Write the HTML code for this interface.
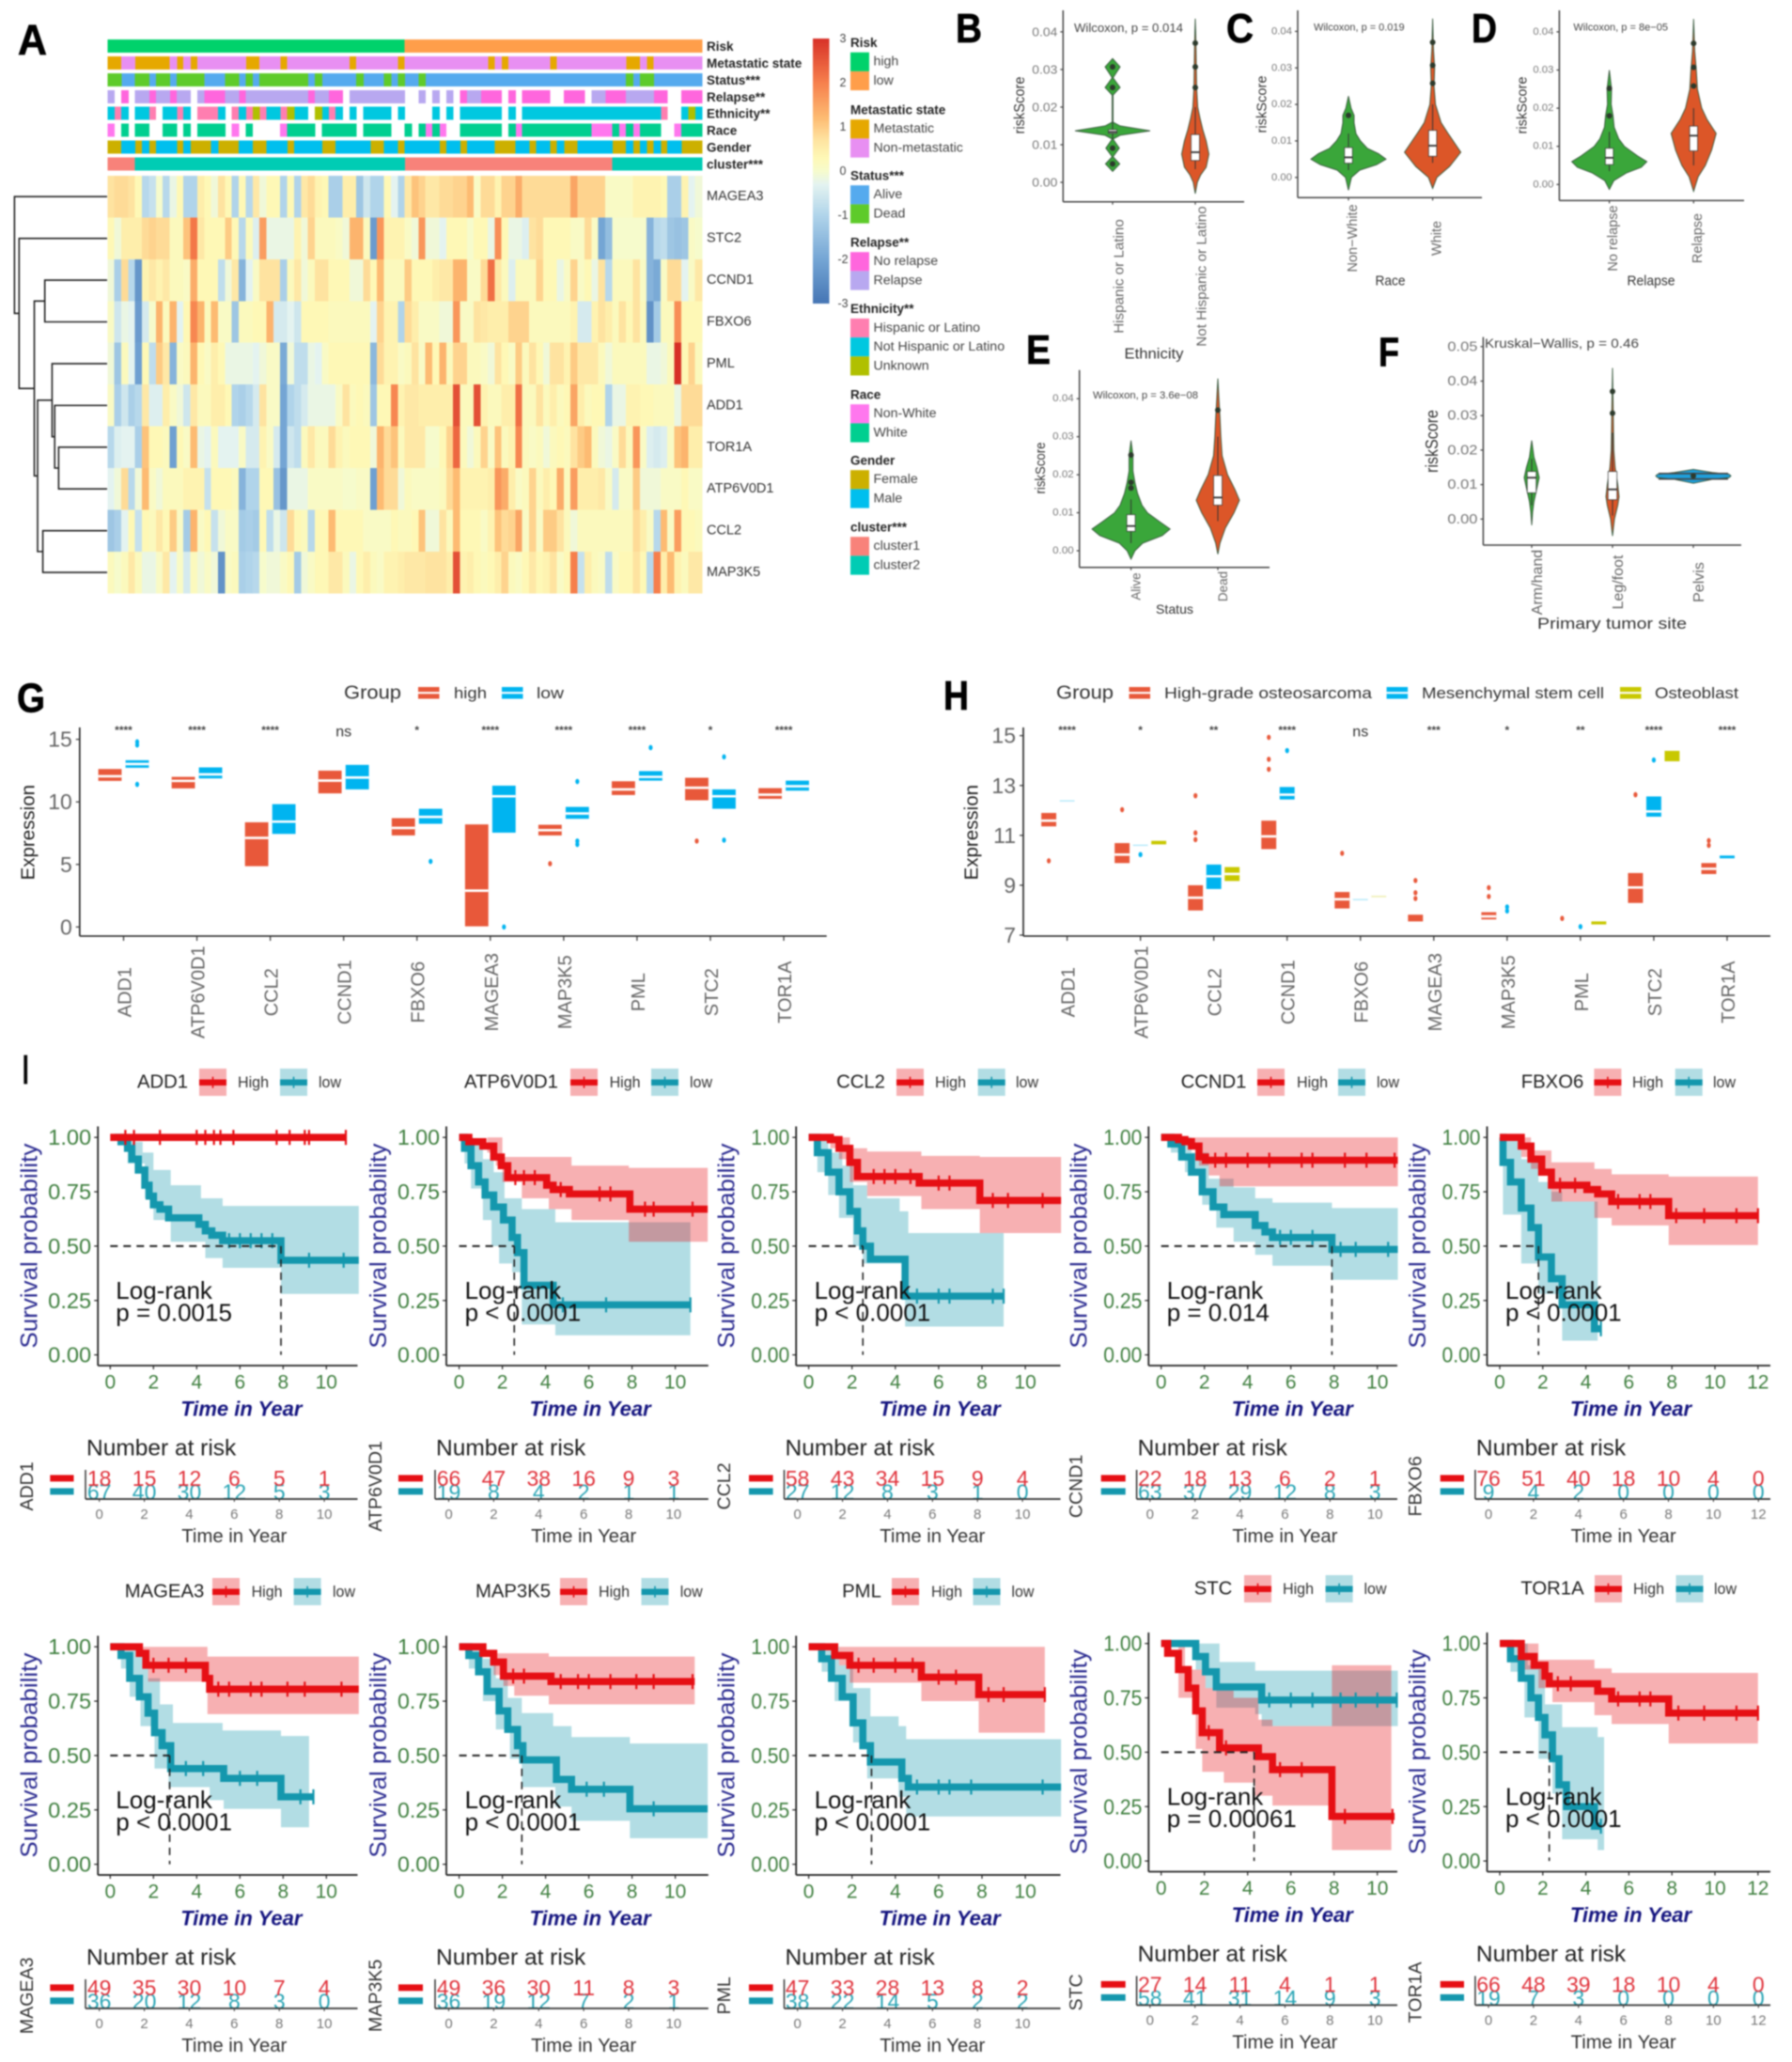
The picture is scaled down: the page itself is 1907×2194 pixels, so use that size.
<!DOCTYPE html>
<html lang="en">
<head>
<meta charset="utf-8">
<title>Risk score figure panels A to I</title>
<style>
html,body{margin:0;padding:0;background:#fff;}
#figure{position:absolute;left:0;top:0;width:1907px;height:2194px;display:block;filter:blur(0.8px);font-family:"Liberation Sans",Arial,sans-serif;}
</style>
</head>
<body>
<svg id="figure" xmlns="http://www.w3.org/2000/svg" width="1907" height="2194" viewBox="0 0 1907 2194">
<rect x="0" y="0" width="1907" height="2194" fill="#ffffff"/>
</svg>
<script>
/* ===== Panel A data ===== */
const heatGenes = ['MAGEA3','STC2','CCND1','FBXO6','PML','ADD1','TOR1A','ATP6V0D1','CCL2','MAP3K5'];
const hMAGEA3 = [.7,.8,.8,.7,.3,-.9,-.7,0,-.9,-.2,.3,-1,-1,.5,.3,-.1,.7,.3,-1,.3,-.9,.6,-.1,.3,.3,-1,.3,-1,.6,.8,.4,.3,-1.1,-1.1,.5,.5,-1.3,-.6,-1,-1,.3,-.3,-1,
 .6,1.1,.9,.6,.6,.8,.8,.9,.9,1.2,.1,.8,.8,.4,.9,.9,1.4,.8,.8,.8,.8,.8,.8,.8,1.5,.9,.9,.9,.9,.1,.1,.1,.1,.4,.4,.4,.4,.3,-1.1,-1.1,.4,-.3,-.1];
const hSTC2 = [.3,-.1,.5,.5,.5,.8,.9,.8,.8,.2,.2,1.1,2.1,.6,.3,.3,.3,1,.3,-.9,.2,-.4,1.6,-.2,-.2,-.2,-.2,.4,-.1,.9,.2,.2,.2,.1,-.1,1.3,1.3,.2,-2.2,1.7,.4,.4,.4,
 .1,-.1,1.7,-.1,-.1,-.3,.3,.3,.3,0,.3,.3,-.2,1.8,.3,-.2,-.2,-.4,.7,.8,.3,.3,.3,.3,.1,.1,.8,.1,-2,-1.5,0,0,0,0,0,-1.7,-.9,-.8,-1.3,-1.4,-1.3,.1,0];
const hCCND1 = [-.1,-1.1,.8,-.9,-2.3,.4,.6,.4,.6,.2,.2,.1,1.4,.3,.3,.3,-.8,-.1,.6,-1.7,-.3,.1,.7,.7,.7,-1.1,.2,.6,-.1,.2,.7,.7,.3,.3,.3,-.1,-.1,.8,.3,1.2,.2,.2,.2,
 1,.3,.3,.3,.5,.6,.6,1.3,1.3,.1,.1,.8,2.2,.6,.2,-.4,.2,.2,.2,.9,.3,.3,-.2,.1,.9,.1,.3,-.2,.7,-.9,.2,.2,.2,.7,.1,-1.7,-1.9,.1,.8,.8,-.3,.1,.6];
const hFBXO6 = [.1,-.6,-.2,-.3,-2.2,-.5,0,1.3,.2,1.3,-.3,.3,1.9,1.3,.2,1.2,.1,.1,-1.3,.2,.2,.3,.3,1.3,-.5,-.5,-.3,-.6,.3,.3,.3,.3,.2,.2,.2,.2,.2,.2,-.3,.9,.4,.4,-1,
 .8,.5,.1,.1,.1,-.1,-.1,1.7,.1,.1,.7,.6,.5,.5,.5,.9,.9,.9,.2,.2,.2,.2,.2,.2,.4,-.5,-.5,.4,.7,.5,.2,.7,.3,.7,.2,-2.4,-1.2,.2,.2,1.8,.3,.3,.3];
const hPML = [-.1,-1.3,.2,-.3,-2.1,.3,-.8,1,.6,-1.7,.1,.2,1.3,.3,.1,.5,.3,-.2,-.2,-.2,-.2,-.3,-.1,.1,.1,-1.9,-.1,-.8,-.8,-.2,-.3,.1,.3,.3,.3,.3,.3,.3,-1.6,.8,.4,.4,.1,
 .2,.7,.1,1.2,.3,1.3,.2,.9,.9,.2,.2,.1,-.1,.7,.3,.1,1,.2,.7,.3,-.1,.7,.7,.4,1,.6,.6,.6,.2,-.1,.2,.2,.2,.2,.2,-.2,-.2,-.1,.2,3,.3,.9,.2];
const hADD1 = [.1,-1.1,-.6,-1.1,-.9,.6,-.4,-.4,.5,.1,-.1,-.6,.6,.2,.2,.5,.5,.3,-1,-1.1,-.9,-.5,.7,.1,.1,-2,-1,-.8,-.5,-.2,-.2,-.2,-.2,.1,.7,.2,.3,.2,-1.3,.3,.3,1.9,.4,
 .6,.6,.5,.5,.5,.5,.5,2.6,.2,.2,2.6,.4,.2,.2,.5,.5,2.2,.2,.2,.7,.2,.5,.2,.3,1.5,.5,.2,.3,.3,-1,-.2,-.2,.4,.4,.3,.3,.2,.2,.2,-.2,.8,.8,.8];
const hTOR1A = [-.9,-.4,-.3,-.3,-1.1,1.1,.3,.3,.2,-2.1,.3,.1,1.2,-.2,-.3,.2,-.3,-.3,-.3,.1,-.5,-.5,.4,.1,-.5,-2,-.6,-.8,.2,.6,.2,.2,.8,.4,.2,.3,.3,.3,-.1,1.3,.8,1.1,.2,
 .6,.6,.6,0,0,.3,.9,2.3,.2,-.1,.2,.9,.1,1.1,.2,.4,1.9,.2,.1,.2,-.1,.2,.3,.2,.7,1,1.2,.2,-.1,-.2,.1,.8,.2,1.7,.1,-.4,-.5,-.4,.1,1.1,1.3,.5,.5];
const hATP6V0D1 = [-.3,-.1,.8,-.9,-.1,1.2,.1,-.1,.2,.2,.2,.4,.4,.4,-.7,.3,.3,.3,.2,-1.7,-1,-1,.3,.3,-1.4,-2.3,-.2,-.2,-.2,.1,.1,.1,.1,.1,0,0,.1,.1,-2.1,1.2,.8,.8,-.1,
 .2,.1,.1,.1,.1,.2,.8,1.2,.4,.4,.4,.4,.5,1.7,1.4,.5,.1,.2,.9,.2,.5,.3,1.4,.2,1.6,.5,.5,.5,.6,.1,-.5,.1,.1,1,-.1,-.1,-.1,.1,.1,.1,.3,.1,.1];
const hCCL2 = [-1.3,-1.1,-.3,.3,-.7,.3,.2,.6,.3,1,.1,-1.2,1.3,.1,.3,-.7,-.1,.1,.1,-1.2,-1.1,-1.2,.3,-.8,-.2,-.6,.8,.3,.2,-.9,.3,.3,1.2,.3,.3,.3,.3,.1,.1,.1,.1,.3,.2,
 .2,.3,1.1,-.1,-.1,.7,.2,1.2,.3,.3,.3,.1,.4,1.1,.8,.9,1.5,.1,.9,.1,1,1,.7,.2,-.1,.2,.2,.2,.2,.2,.2,.2,.2,.8,.5,.1,-.9,1.2,.1,1.6,.3,.3,.2];
const hMAP3K5 = [.2,0,.2,.6,.2,-.2,-.2,.1,.6,-.3,.1,-.5,.2,-.1,.1,-.1,-2.4,.1,.2,-1.1,-1,-.9,0,-.1,-.1,.1,.3,-1.2,-.1,.1,.3,.3,.6,.6,.2,-.2,.3,.5,.2,.1,.4,.4,.5,
 .6,.6,.6,.7,.7,.7,.5,2.6,.4,.5,.3,.2,.3,.5,.9,.2,.1,.3,.6,.3,.4,.7,.1,.3,2,-.7,.5,.2,.1,-.8,.1,.3,.3,.7,.3,-.9,2,.5,1.2,.4,.2,.6,.6];
const colorbarTicks = [3,2,1,0,-1,-2,-3];
const annRiskHigh = "0-42";
const annRiskLow = "43-85";
const annMetastatic = "0-1 4-8 10 12 20-21 25 35 42 55 57 64 75-76 78";
const annNonMetastatic = "2-3 9 11 13-19 22-24 26-34 36-41 43-54 56 58-63 65-74 77 79-85";
const annDead = "0-1 4-5 7-8 10-13 17-18 20 22-28 30 36 40 42 45 75 77-78";
const annAlive = "2-3 6 9 14-16 19 21 29 31-35 37-39 41 43-44 46-74 76 79-85";
const annNoRelapse = "2 6 9 14-16 19 29 32-33 51 54-56 58 60-63 66-68 72-74 79-80 83-85";
const annRelapse = "0 4-5 7-8 10-11 13 17-18 20-28 30-31 35-42 45 47 49 52-53 70-71 75-78";
const annHispanic = "1 6 10 13-15 18 20 22 25 32 80";
const annNotHispanic = "0 2 4-5 8-9 11 16 19 23-24 27-28 31 33 35 37-40 42 47 49 51-56 58 60-79 83 85";
const annUnknown = "21 26 30 84";
const annNonWhite = "0 18 25 46 48 59 70-72 74 76 82";
const annWhite = "2 4-5 8-9 11 13-16 20 26-29 31-35 37-40 43 45 47 51-56 58 60-69 73 75 77-79 83-85";
const annFemale = "0-1 4 6 10 12-14 16-18 21-22 26 31-32 38-39 42 48 51 56-58 61 64 66-67 73-74 76 78 80 83-85";
const annMale = "2-3 5 7-9 11 15 19-20 23-25 27-30 33-37 40-41 43-47 49-50 52-55 59-60 62-63 65 68-72 75 77 79 81-82";
const annCluster1 = "0-3 43-72";
const annCluster2 = "4-42 73-85";
const dendroTree = [98.6,'MAGEA3',[93.7,'STC2',[77.5,[66.3,'CCND1','FBXO6'],[74,[58.6,'PML',[55.8,'ADD1',[51.6,'TOR1A','ATP6V0D1']]],[68.4,'CCL2','MAP3K5']]]]];

/* ===== Panels B-F data ===== */
const scoreTicks = [0,.01,.02,.03,.04];
const scoreTicksF = [0,.01,.02,.03,.04,.05];
const vB1Vals=[.0029,.0049,.0068,.0091,.0115,.0125,.0137,.015,.016,.0232,.0252,.0278,.0307,.0329];
const vB1Dens=[0,.19,.012,.18,.012,.2,1,.2,.012,.012,.2,.012,.2,0];
const vB1Box=[.013,.0134,.014,.0115,.016];
const vB1Out=[.0049,.0091,.0252,.0307];
const vB2Vals=[-.003,0,.002,.004,.0075,.011,.014,.017,.02,.025,.03,.035,.04,.0435];
const vB2Dens=[0,.15,.4,.8,1,.8,.55,.35,.18,.1,.08,.06,.03,0];
const vB2Box=[.0058,.008,.0127,.0035,.02];
const vB2Out=[.0252,.0307,.037];
const vC1Vals=[-.0035,0,.002,.0035,.005,.0065,.008,.01,.012,.015,.017,.019,.0223];
const vC1Dens=[0,.08,.3,.75,1,.8,.5,.32,.2,.15,.15,.07,0];
const vC1Box=[.0039,.0055,.0082,.002,.012];
const vC1Out=[.017];
const vC2Vals=[-.003,0,.003,.0069,.012,.015,.02,.025,.03,.035,.0435];
const vC2Dens=[0,.15,.6,1,.55,.3,.1,.05,.07,.03,0];
const vC2Box=[.0058,.0087,.0129,.004,.02];
const vC2Out=[.0258,.0307,.037];
const vD1Vals=[-.0013,.001,.003,.0045,.006,.0075,.01,.012,.015,.018,.021,.025,.03];
const vD1Dens=[0,.12,.45,.85,1,.75,.4,.25,.13,.1,.05,.06,0];
const vD1Box=[.0052,.007,.0095,.0035,.0138];
const vD1Out=[.018,.0252];
const vD2Vals=[-.0018,.002,.005,.009,.0134,.017,.02,.025,.03,.035,.0434];
const vD2Dens=[0,.2,.52,.8,1,.6,.36,.17,.12,.05,0];
const vD2Box=[.0088,.0128,.0153,.005,.02];
const vD2Out=[.0258,.0307,.037];
const vE1Vals=[-.0022,0,.002,.004,.0057,.0075,.01,.012,.015,.018,.021,.025,.029];
const vE1Dens=[0,.1,.3,.8,1,.75,.42,.28,.17,.1,.05,.05,0];
const vE1Box=[.0051,.0065,.0095,.002,.0135];
const vE1Out=[.0165,.018,.0252];
const vE2Vals=[-.0009,.002,.006,.01,.0133,.016,.02,.025,.03,.035,.04,.0453];
const vE2Dens=[0,.1,.35,.75,1,.8,.45,.2,.14,.1,.05,0];
const vE2Box=[.012,.014,.0198,.0078,.03];
const vE2Out=[.037];
const vF1Vals=[-.0018,.002,.005,.008,.012,.015,.018,.0228];
const vF1Dens=[0,.12,.3,.6,1,.7,.3,0];
const vF1Box=[.0076,.012,.0138,.004,.0175];
const vF1Out=[];
const vF2Vals=[-.0049,0,.004,.0065,.01,.015,.02,.03,.0438];
const vF2Dens=[0,.3,.8,1,.8,.4,.2,.12,0];
const vF2Box=[.0056,.0086,.0138,.001,.025];
const vF2Out=[.0307,.037];
const vF3Vals=[.0104,.0115,.012,.0125,.013,.0135,.0144];
const vF3Dens=[0,.5,.95,1,.95,.5,0];
const vF3Box=[.0122,.0125,.0128,.0122,.0128];
const vF3Out=[.0125];
const vF3Rails=[.0116,.0132];

/* ===== Panels G, H data ===== */
const exprGenes=['ADD1','ATP6V0D1','CCL2','CCND1','FBXO6','MAGEA3','MAP3K5','PML','STC2','TOR1A'];
const gTicks=[0,5,10,15];
const gSignif=['****','****','****','ns','*','****','****','****','*','****'];
const gHighQ1=[11.68,11.08,4.86,10.68,7.32,.05,7.32,10.55,10.13,10.25];
const gHighMed=[12.05,11.68,7.12,11.7,7.92,2.9,7.74,11,11.13,10.58];
const gHighQ3=[12.63,12,8.37,12.5,8.7,8.2,8.17,11.65,11.93,11.1];
const gHighOut=[[],[],[],[],[],[],[5.06],[],[6.87],[]];
const gLowQ1=[12.73,11.88,7.44,11,8.25,7.54,8.65,11.7,9.45,10.9];
const gLowMed=[13.03,12.2,8.42,11.95,8.8,10.45,9.07,12,10.45,11.25];
const gLowQ3=[13.33,12.76,9.82,12.96,9.45,11.3,9.6,12.46,11,11.7];
const gLowOut=[[14.8,14.55,11.4],[],[],[],[5.24],[0],[11.63,6.87,6.6],[14.34],[13.6,6.94],[]];
const hTicks=[7,9,11,13,15];
const hSignif=['****','*','**','****','ns','***','*','**','****','****'];
const hRedQ1=[11.36,9.89,7.99,10.45,8.07,7.55,7.63,null,8.29,9.45];
const hRedMed=[11.59,10.23,8.5,10.96,8.44,null,7.75,null,8.91,9.66];
const hRedQ3=[11.9,10.69,9,11.59,8.73,7.82,7.92,null,9.49,9.89];
const hRedOut=[[9.98],[12.03],[12.59,11.1,10.83],[14.93,14.05,13.65],[10.28],[9.19,8.7,8.47],[8.9,8.55],[7.67],[12.63],[10.79,10.6]];
const hBlueQ1=[12.38,10.6,8.85,12.44,8.41,null,null,null,11.75,10.08];
const hBlueMed=[null,null,9.36,12.63,null,null,null,null,11.96,null];
const hBlueQ3=[12.41,10.63,9.83,12.94,8.45,null,null,null,12.56,10.19];
const hBlueOut=[[],[10.23],[],[14.4],[],[],[8.13,7.97],[7.34],[14.02],[]];
const hYellowQ1=[null,10.64,9.17,null,8.52,null,null,7.43,13.97,null];
const hYellowMed=[null,null,9.45,null,null,null,null,null,null,null];
const hYellowQ3=[null,10.78,9.73,null,8.58,null,null,7.55,14.39,null];

/* ===== Panel I data: survival curves (time in years, survival probability) ===== */
const survTicks=[0,.25,.5,.75,1];
const add1HighT=[0,10.9];const add1HighS=[1,1];
const add1HighUpT=[0,10.9];const add1HighUp=[1,1];const add1HighLoT=[0,10.9];const add1HighLo=[1,1];
const add1LowT=[.2,.5,.8,1,1.3,1.6,1.8,2,2.3,2.7,4.1,4.4,4.7,5.2,7.9,11.5];
const add1LowS=[1,.98,.95,.9,.85,.78,.73,.69,.67,.63,.6,.57,.55,.525,.435,.435];
const add1LowUpT=[.2,1,1.5,2,2.8,4.2,5.2,11.5];const add1LowUp=[1,.98,.93,.85,.78,.72,.685,.685];
const add1LowLoT=[.2,.8,1.6,2,2.8,4.4,5.2,7.9,11.5];const add1LowLo=[1,.88,.72,.62,.52,.445,.4,.28,.28];
const add1HighCens=[.7,1.1,2.3,4,4.4,4.8,5.1,5.7,7.7,8.3,9,9.2,10.9];const add1LowCens=[5.5,6,6.5,7,7.5,9.2,10.8];
const add1RiskHigh=[18,15,12,6,5,1];const add1RiskLow=[67,40,30,12,5,3];

const atpHighT=[0,.45,1.1,1.6,1.95,2.25,4.05,4.35,5.1,7.9,11.5];const atpHighS=[1,.98,.96,.91,.87,.815,.78,.76,.74,.67,.67];
const atpHighUpT=[0,1.1,2,5.2,7.85,11.5];const atpHighUp=[1,1,.91,.87,.86,.86];
const atpHighLoT=[0,1.3,1.7,2,2.9,4.15,5.2,7.85,11.5];const atpHighLo=[1,.93,.87,.795,.72,.67,.62,.52,.52];
const atpLowT=[0,.25,.55,.9,1.2,1.6,2.05,2.45,2.7,3,4.35,10.7];const atpLowS=[1,.95,.87,.795,.735,.68,.62,.54,.47,.32,.23,.23];
const atpLowUpT=[0,.65,1.1,1.6,2.1,2.9,4.45,10.7];const atpLowUp=[1,.97,.9,.84,.72,.67,.61,.61];
const atpLowLoT=[0,.25,.55,1.1,1.5,1.85,2.45,2.9,4.45,10.7];const atpLowLo=[1,.88,.765,.62,.5,.42,.38,.14,.09,.09];
const atpHighCens=[2.6,3,3.5,4.7,6.5,7,8.6,9,10.8];const atpLowCens=[4.8,6.8,10.7];
const atpRiskHigh=[66,47,38,16,9,3];const atpRiskLow=[19,8,4,2,1,1];

const ccl2HighT=[0,.5,1,1.4,1.9,2.25,5.1,7.9,11.65];const ccl2HighS=[1,1,.99,.95,.885,.82,.79,.71,.71];
const ccl2HighUpT=[0,1,1.9,2.7,5.2,7.9,11.65];const ccl2HighUp=[1,1,.95,.935,.915,.91,.91];
const ccl2HighLoT=[0,1,1.4,1.9,2.7,5.2,7.9,11.65];const ccl2HighLo=[1,.95,.9,.795,.73,.67,.56,.56];
const ccl2LowT=[0,.4,.9,1.4,1.9,2.25,2.5,2.85,4.45,9];const ccl2LowS=[1,.93,.84,.75,.66,.57,.5,.44,.27,.27];
const ccl2LowUpT=[0,.9,1.55,2.05,2.7,4.2,4.6,9];const ccl2LowUp=[1,.93,.87,.78,.72,.66,.56,.56];
const ccl2LowLoT=[0,.4,.9,1.4,2.05,2.5,4.45,9];const ccl2LowLo=[1,.84,.735,.63,.5,.42,.13,.13];
const ccl2HighCens=[3,3.5,4,4.7,6,6.5,8.5,9.2,10.8];const ccl2LowCens=[5,6,6.5,8.5,9];
const ccl2RiskHigh=[58,43,34,15,9,4];const ccl2RiskLow=[27,12,8,3,1,0];

const ccndHighT=[0,.8,1.1,1.4,1.75,2.05,10.95];const ccndHighS=[1,.99,.98,.96,.91,.895,.895];
const ccndHighUpT=[0,10.95];const ccndHighUp=[1,1];
const ccndHighLoT=[0,1.1,1.75,2.2,2.7,10.95];const ccndHighLo=[1,.97,.87,.825,.775,.775];
const ccndLowT=[0,.45,.95,1.4,1.9,2.4,2.9,4.35,4.8,5.15,7.9,10.95];const ccndLowS=[1,.97,.91,.84,.75,.68,.645,.595,.565,.54,.485,.485];
const ccndLowUpT=[0,1.4,2.2,3.35,4.35,5.15,7.9,10.95];const ccndLowUp=[1,.93,.81,.77,.72,.7,.675,.675];
const ccndLowLoT=[0,.45,1.1,1.9,2.55,3.35,4.35,5.15,7.9,10.95];const ccndLowLo=[1,.93,.84,.69,.585,.52,.46,.41,.345,.345];
const ccndHighCens=[2.5,3,4,5,6.5,7,8.5,9.5,10.8];const ccndLowCens=[5.5,6,7,8.3,9,10.5];
const ccndRiskHigh=[22,18,13,6,2,1];const ccndRiskLow=[63,37,29,12,8,3];

const fbxoHighT=[0,.5,1,1.45,1.95,2.4,4.05,4.55,5.2,7.85,12];const fbxoHighS=[1,1,.96,.9,.84,.78,.76,.74,.705,.64,.64];
const fbxoHighUpT=[0,.5,1.45,2.4,4.4,5.2,7.85,12];const fbxoHighUp=[1,1,.94,.885,.855,.83,.82,.82];
const fbxoHighLoT=[0,1,1.45,2.4,4.4,5.2,7.85,12];const fbxoHighLo=[1,.91,.855,.705,.63,.595,.505,.505];
const fbxoLowT=[0,.15,.5,1,1.45,1.8,2.4,2.9,4.4,4.7];const fbxoLowS=[1,.885,.795,.675,.585,.45,.35,.23,.12,.12];
const fbxoLowUpT=[0,1,1.8,2.4,2.9,4.55];const fbxoLowUp=[1,.9,.795,.75,.705,.66];
const fbxoLowLoT=[0,.15,1,1.8,2.9,4.55];const fbxoLowLo=[1,.645,.42,.28,.065,.02];
const fbxoHighCens=[2.8,3.5,5.5,6.5,7,8.2,9.5,11,12];const fbxoLowCens=[4.7];
const fbxoRiskHigh=[76,51,40,18,10,4,0];const fbxoRiskLow=[9,4,2,0,0,0,0];

const mageHighT=[0,.9,1.35,1.65,4.05,4.4,4.6,11.5];const mageHighS=[1,1,.97,.915,.915,.855,.805,.805];
const mageHighUpT=[0,4.15,4.5,11.5];const mageHighUp=[1,1,.955,.955];
const mageHighLoT=[0,1.4,1.75,4.5,11.5];const mageHighLo=[1,.96,.84,.69,.69];
const mageLowT=[0,.5,.9,1.35,1.75,2.05,2.4,2.8,5.25,7.9,9.4];const mageLowS=[1,.96,.855,.77,.695,.605,.545,.44,.395,.31,.31];
const mageLowUpT=[0,1.2,1.75,2.3,2.9,5.2,7.9,9.2];const mageLowUp=[1,.96,.855,.735,.65,.615,.59,.59];
const mageLowLoT=[0,.5,.9,1.4,2.05,2.7,4.6,5.25,7.9,9.2];const mageLowLo=[1,.9,.77,.635,.44,.355,.295,.255,.17,.17];
const mageHighCens=[2,2.7,3.5,5,5.5,6.5,7,8.2,9,10.7];const mageLowCens=[3.5,4.3,6,6.8,8.8,9.4];
const mageRiskHigh=[49,35,30,10,7,4];const mageRiskLow=[36,20,12,8,3,0];

const mapHighT=[0,.4,1.1,1.6,2.05,4.05,4.25,10.9];const mapHighS=[1,1,.97,.93,.865,.865,.84,.84];
const mapHighUpT=[0,.7,1.6,4.15,10.9];const mapHighUp=[1,1,.97,.955,.955];
const mapHighLoT=[0,1.6,2.05,2.55,4.15,10.9];const mapHighLo=[1,.87,.82,.775,.735,.735];
const mapLowT=[0,.45,.9,1.3,1.85,2.25,2.7,2.95,4.25,4.5,5.2,7.9,11.5];const mapLowS=[1,.96,.885,.795,.705,.62,.545,.48,.48,.39,.345,.255,.255];
const mapLowUpT=[0,1.1,1.7,2.25,2.9,4.35,5.2,7.9,11.5];const mapLowUp=[1,.945,.855,.765,.695,.635,.585,.555,.555];
const mapLowLoT=[0,.45,1.1,1.7,2.35,2.9,4.45,5.2,7.9,11.5];const mapLowLo=[1,.9,.75,.62,.485,.355,.265,.2,.12,.12];
const mapHighCens=[2.5,3,4.7,5.5,6,7,8.2,9,10.8];const mapLowCens=[5.9,6.7,9];
const mapRiskHigh=[49,36,30,11,8,3];const mapRiskLow=[36,19,12,7,2,1];

const pmlHighT=[0,.8,1.2,1.9,5.2,7.85,10.95];const pmlHighS=[1,1,.96,.915,.86,.78,.78];
const pmlHighUpT=[0,10.9];const pmlHighUp=[1,1];
const pmlHighLoT=[0,1.4,1.9,5.2,7.85,10.9];const pmlHighLo=[1,.915,.835,.75,.605,.605];
const pmlLowT=[0,.6,1.05,1.55,2.05,2.5,2.85,4.3,4.6,11.65];const pmlLowS=[1,.945,.855,.77,.65,.545,.47,.395,.355,.355];
const pmlLowUpT=[0,1.4,2.05,2.85,4.15,4.5,11.65];const pmlLowUp=[1,.915,.81,.68,.635,.575,.575];
const pmlLowLoT=[0,.6,1.2,2.05,2.7,4.15,4.5,11.65];const pmlLowLo=[1,.885,.75,.56,.395,.31,.22,.22];
const pmlHighCens=[2.3,3,4,4.8,6,6.8,8.3,9,10.9];const pmlLowCens=[5,6,6.5,7.5,10.8];
const pmlRiskHigh=[47,33,28,13,8,2];const pmlRiskLow=[38,22,14,5,2,2];

const stcHighT=[0,.3,.8,1.25,1.6,1.9,2.7,4.5,5.15,7.9,10.8];const stcHighS=[1,.955,.88,.795,.69,.59,.52,.48,.42,.205,.205];
const stcHighUpT=[0,1.1,2.05,3.35,4.5,5.15,7.9,10.65];const stcHighUp=[1,.88,.795,.75,.65,.62,.9,.9];
const stcHighLoT=[0,.8,1.6,1.9,2.9,4.35,5.15,7.9,10.65];const stcHighLo=[1,.75,.515,.41,.36,.3,.255,.05,.05];
const stcLowT=[0,1.1,1.6,2.05,2.55,4.2,4.65,10.95];const stcLowS=[1,1,.94,.87,.8,.8,.74,.74];
const stcLowUpT=[0,1.7,2.7,4.35,10.95];const stcLowUp=[1,1,.915,.875,.875];
const stcLowLoT=[0,1.6,2.05,2.55,4.35,4.65,10.95];const stcLowLo=[1,.88,.795,.705,.675,.62,.62];
const stcHighCens=[2.2,3,5.5,6.5,8.5,10.7];const stcLowCens=[5,6,7,8.3,9,10,10.9];
const stcRiskHigh=[27,14,11,4,1,1];const stcRiskLow=[58,41,31,14,9,3];

const torHighT=[0,.5,1,1.6,2.1,2.3,4.05,4.55,5.2,7.85,12];const torHighS=[1,1,.94,.9,.85,.815,.815,.78,.745,.68,.68];
const torHighUpT=[0,.5,1.8,4.4,5.2,12];const torHighUp=[1,1,.925,.885,.865,.865];
const torHighLoT=[0,1,1.8,2.45,4.4,5.2,7.85,12];const torHighLo=[1,.88,.795,.73,.67,.63,.54,.54];
const torLowT=[0,.5,1,1.45,1.8,2.1,2.45,2.75,3.1,4.4,4.7];const torLowS=[1,.93,.84,.75,.66,.58,.47,.35,.25,.16,.16];
const torLowUpT=[0,1.3,2.1,2.9,4.55,4.85];const torLowUp=[1,.9,.72,.615,.57,.57];
const torLowLoT=[0,.5,1.15,1.8,2.45,2.9,4.55,4.85];const torLowLo=[1,.87,.66,.47,.31,.1,.05,.05];
const torHighCens=[2.7,3.3,5.5,6.5,7,8.3,9.5,11,12];const torLowCens=[4.7];
const torRiskHigh=[66,48,39,18,10,4,0];const torRiskLow=[19,7,3,0,0,0,0];

/* ===== Helpers ===== */
const NS='http://www.w3.org/2000/svg';
const root=document.getElementById('figure');
function add(parent,tag,attrs,name,interactive){
  const el=document.createElementNS(NS,tag);
  for(const k in attrs){el.setAttribute(k,attrs[k]);}
  
  
  parent.appendChild(el);
  return el;
}
function group(parent,name){return add(parent,'g',{},name,false);}
function label(parent,x,y,str,o,name){
  o=o||{};
  const a={x:x,y:y,'font-size':o.size||14,fill:o.fill||'#222','text-anchor':o.anchor||'start','dominant-baseline':'central','font-family':'"Liberation Sans",Arial,sans-serif'};
  if(o.weight){a['font-weight']=o.weight;}
  if(o.style){a['font-style']=o.style;}
  if(o.rot){a.transform='rotate('+o.rot+' '+x+' '+y+')';}
  if(o.len){a.textLength=o.len;a.lengthAdjust='spacingAndGlyphs';}
  if(o.heavy){a.stroke=o.fill||'#222';a['stroke-width']=o.heavy;}
  const t=add(parent,'text',a,name,false);
  t.textContent=str;
  return t;
}
function line(parent,x1,y1,x2,y2,stroke,w,name,dash){
  const a={x1:x1,y1:y1,x2:x2,y2:y2,stroke:stroke,'stroke-width':w};
  if(dash){a['stroke-dasharray']=dash;}
  return add(parent,'line',a,name,false);
}
function rect(parent,x,y,w,h,fill,name,extra){
  const a=Object.assign({x:x,y:y,width:w,height:h,fill:fill},extra||{});
  return add(parent,'rect',a,name,false);
}
function linearScale(d0,d1,p0,p1){return function(v){return p0+(v-d0)*(p1-p0)/(d1-d0);};}
function expand(spec){
  const out=[];
  spec.split(' ').forEach(function(s){
    const p=s.split('-').map(Number);
    const e=p.length>1?p[1]:p[0];
    for(let i=p[0];i<=e;i++){out.push(i);}
  });
  return out;
}

/* ===== Panel letters ===== */
const gLetters=group(root,'panel-letters');
label(gLetters,19,42.5,'A',{size:45,weight:'bold',fill:'#000',len:31,heavy:.7},'panel-letter-a');
label(gLetters,1017,30.5,'B',{size:44,weight:'bold',fill:'#000',len:28,heavy:.7},'panel-letter-b');
label(gLetters,1305,30.5,'C',{size:44,weight:'bold',fill:'#000',len:29,heavy:.7},'panel-letter-c');
label(gLetters,1566,30.5,'D',{size:44,weight:'bold',fill:'#000',len:27,heavy:.7},'panel-letter-d');
label(gLetters,1092,372.5,'E',{size:44,weight:'bold',fill:'#000',len:26,heavy:.7},'panel-letter-e');
label(gLetters,1467,375,'F',{size:44,weight:'bold',fill:'#000',len:22,heavy:.7},'panel-letter-f');
label(gLetters,18,743,'G',{size:44,weight:'bold',fill:'#000',len:30,heavy:.7},'panel-letter-g');
label(gLetters,1004,740.5,'H',{size:44,weight:'bold',fill:'#000',len:27,heavy:.7},'panel-letter-h');
label(gLetters,24,1138.5,'I',{size:44,weight:'bold',fill:'#000',len:6.5,heavy:.7},'panel-letter-i');

/* ===== Panel A ===== */
(function(){
  const g=group(root,'panel-a-heatmap');
  const left=114.3,colW=632.7/86,top=187,rowH=44.43;
  const stops=[[-3,'#4575b4'],[-2,'#74a5d4'],[-1,'#b0d4ea'],[-.3,'#e4f3f0'],[0,'#f6fbcc'],[.3,'#fef8b6'],[.7,'#fee3a0'],[1.2,'#fdbb72'],[2,'#f67f4c'],[3,'#d73027']];
  function hexRgb(h){return [parseInt(h.substr(1,2),16),parseInt(h.substr(3,2),16),parseInt(h.substr(5,2),16)];}
  function colorOf(v){
    if(v<=stops[0][0]){return stops[0][1];}
    for(let i=1;i<stops.length;i++){
      if(v<=stops[i][0]){
        const t=(v-stops[i-1][0])/(stops[i][0]-stops[i-1][0]);
        const a=hexRgb(stops[i-1][1]),b=hexRgb(stops[i][1]);
        return 'rgb('+a.map(function(c,j){return Math.round(c+(b[j]-c)*t);}).join(',')+')';
      }
    }
    return stops[stops.length-1][1];
  }
  const rows=[hMAGEA3,hSTC2,hCCND1,hFBXO6,hPML,hADD1,hTOR1A,hATP6V0D1,hCCL2,hMAP3K5];
  const gCells=group(g,'heatmap-cells');
  rows.forEach(function(vals,r){
    vals.forEach(function(v,c){
      rect(gCells,left+c*colW,top+r*rowH,colW+.4,rowH+.4,colorOf(v),'heat-cell-'+heatGenes[r].toLowerCase(),{'shape-rendering':'crispEdges'});
    });
    label(g,752,top+r*rowH+rowH/2,heatGenes[r],{size:14.5,fill:'#333'},'gene-label-'+heatGenes[r].toLowerCase());
  });
  /* annotation tracks */
  const tracks=[
    ['Risk',[[annRiskHigh,'#00d26b'],[annRiskLow,'#ff9e4a']]],
    ['Metastatic state',[[annMetastatic,'#e6a800'],[annNonMetastatic,'#e88ff2']]],
    ['Status***',[[annAlive,'#55aaee'],[annDead,'#5ecb2a']]],
    ['Relapse**',[[annNoRelapse,'#ff66dd'],[annRelapse,'#b8a8f0']]],
    ['Ethnicity**',[[annHispanic,'#ff7eb0'],[annNotHispanic,'#00c8e0'],[annUnknown,'#b0c000']]],
    ['Race',[[annNonWhite,'#ff77ee'],[annWhite,'#00cf90']]],
    ['Gender',[[annFemale,'#ccb000'],[annMale,'#00bfee']]],
    ['cluster***',[[annCluster1,'#f8827a'],[annCluster2,'#00ccb4']]]
  ];
  tracks.forEach(function(t,i){
    const y=42+i*17.93;
    const tg=group(g,'annotation-track-'+i);
    t[1].forEach(function(cat){
      expand(cat[0]).forEach(function(c){
        rect(tg,left+c*colW,y,colW+.4,14,cat[1],'annotation-cell',{'shape-rendering':'crispEdges'});
      });
    });
    label(g,752,y+7.5,t[0],{size:13.5,weight:'bold',fill:'#222'},'annotation-label-'+i);
  });
  /* dendrogram */
  const gD=group(g,'gene-dendrogram');
  const dx=function(h){return 114-h;};
  const dy=function(n){return top+heatGenes.indexOf(n)*rowH+rowH/2;};
  function walk(node){
    if(typeof node==='string'){return {x:114,y:dy(node)};}
    const a=walk(node[1]),b=walk(node[2]);
    const x=dx(node[0]);
    add(gD,'path',{d:'M'+a.x+' '+a.y+'H'+x+'V'+b.y+'H'+b.x,fill:'none',stroke:'#222','stroke-width':1.6},'dendrogram-branch',false);
    return {x:x,y:(a.y+b.y)/2};
  }
  walk(dendroTree);
  /* colour bar */
  const defs=add(g,'defs',{},'colorbar-defs',false);
  const grad=add(defs,'linearGradient',{id:'cbar',x1:0,y1:1,x2:0,y2:0},'colorbar-gradient',false);
  stops.forEach(function(s){
    add(grad,'stop',{offset:((s[0]+3)/6),'stop-color':s[1]},'colorbar-stop',false);
  });
  rect(g,865,41,17.5,282,'url(#cbar)','colorbar');
  const cy=linearScale(3,-3,41,323);
  colorbarTicks.forEach(function(v){
    label(g,897,cy(v),String(v),{size:12.5,fill:'#444',anchor:'middle'},'colorbar-tick');
  });
  /* legends */
  const legends=[
    ['Risk',45.5,[['high','#00d26b'],['low','#ff9e4a']]],
    ['Metastatic state',117,[['Metastatic','#e6a800'],['Non-metastatic','#e88ff2']]],
    ['Status***',187,[['Alive','#55aaee'],['Dead','#5ecb2a']]],
    ['Relapse**',258,[['No relapse','#ff66dd'],['Relapse','#b8a8f0']]],
    ['Ethnicity**',328.7,[['Hispanic or Latino','#ff7eb0'],['Not Hispanic or Latino','#00c8e0'],['Unknown','#b0c000']]],
    ['Race',420,[['Non-White','#ff77ee'],['White','#00cf90']]],
    ['Gender',490,[['Female','#ccb000'],['Male','#00bfee']]],
    ['cluster***',561,[['cluster1','#f8827a'],['cluster2','#00ccb4']]]
  ];
  legends.forEach(function(L){
    const lg=group(g,'legend-'+L[0].replace(/[^a-zA-Z]/g,'').toLowerCase());
    label(lg,905,L[1],L[0],{size:13.5,weight:'bold',fill:'#222'},'legend-title');
    L[2].forEach(function(e,i){
      const y=L[1]+10.2+i*20.2;
      rect(lg,905,y,20,20.2,e[1],'legend-swatch');
      label(lg,929.5,y+10,e[0],{size:14.2,fill:'#444'},'legend-entry');
    });
  });
})();

/* ===== Panels B-F violins ===== */
const GREEN='#3aa63a',ORANGE='#dc5628',SKY='#1ea0dc';
function violinPanel(cfg,violins){
  const g=group(root,cfg.name);
  const y=linearScale(0,.04,cfg.y0,cfg.y04);
  violins.forEach(function(v){
    const pts=[];
    v.vals.forEach(function(val,i){pts.push((v.cx+v.dens[i]*v.half)+','+y(val));});
    for(let i=v.vals.length-1;i>=0;i--){pts.push((v.cx-v.dens[i]*v.half)+','+y(v.vals[i]));}
    add(g,'polygon',{points:pts.join(' '),fill:v.fill,stroke:'#35553a','stroke-width':.9},'violin-'+v.id,false);
    line(g,v.cx,y(v.box[3]),v.cx,y(v.box[4]),'#333',1,'violin-whisker-'+v.id);
    (v.rails||[]).forEach(function(r){
      line(g,v.cx-v.half+3,y(r),v.cx+v.half-3,y(r),'#444',1.6,'violin-rail-'+v.id);
    });
    if(!v.rails){
      rect(g,v.cx-v.boxW/2,y(v.box[2]),v.boxW,y(v.box[0])-y(v.box[2]),'#fff','violin-box-'+v.id,{stroke:'#333','stroke-width':.7});
      line(g,v.cx-v.boxW/2,y(v.box[1]),v.cx+v.boxW/2,y(v.box[1]),'#333',1.8,'violin-median-'+v.id);
    }
    v.out.forEach(function(o){
      add(g,'circle',{cx:v.cx,cy:y(o),r:cfg.dot||3,fill:'#2c3a2c'},'violin-outlier-'+v.id,false);
    });
  });
  line(g,cfg.axX,cfg.axT,cfg.axX,cfg.axB,'#444',1.5,'y-axis-line');
  line(g,cfg.axX,cfg.axB,cfg.axR,cfg.axB,'#444',1.5,'x-axis-line');
  cfg.ticks.forEach(function(t){
    line(g,cfg.axX-3,y(t),cfg.axX,y(t),'#444',1.2,'y-tick');
    label(g,cfg.axX-6,y(t),t.toFixed(2),{size:cfg.tickSize,fill:'#777',anchor:'end',len:cfg.tickLen},'y-tick-label');
  });
  violins.forEach(function(v,i){
    line(g,v.cx,cfg.axB,v.cx,cfg.axB+3,'#444',1.2,'x-tick');
    label(g,v.cx+cfg.labOff,cfg.labCy,cfg.cats[i],{size:cfg.catSize,fill:'#666',anchor:'middle',rot:-90},'x-tick-label');
  });
  label(g,cfg.yTitleX,cfg.yTitleY,'riskScore',{size:cfg.yTitleSize,fill:'#333',anchor:'middle',rot:-90,len:cfg.yTitleLen},'y-axis-title');
  label(g,cfg.xTitleX,cfg.xTitleY,cfg.xTitle,{size:cfg.xTitleSize,fill:'#333',anchor:'middle',len:cfg.xTitleLen},'x-axis-title');
  label(g,cfg.statX,cfg.statY,cfg.stat,{size:cfg.statSize,fill:'#444',len:cfg.statLen},'statistic-annotation');
}
violinPanel({name:'panel-b-ethnicity-violin',y0:194,y04:33.9,axX:1131.3,axT:11,axB:214.7,axR:1324,ticks:scoreTicks,tickSize:13,tickLen:27,labOff:7,labCy:294,catSize:15.2,cats:['Hispanic or Latino','Not Hispanic or Latino'],yTitleX:1085.6,yTitleY:112,yTitleSize:16,yTitleLen:61,xTitleX:1228,xTitleY:377,xTitleSize:16,xTitleLen:63,xTitle:'Ethnicity',statX:1143,statY:29.5,statSize:13,statLen:116,stat:'Wilcoxon, p = 0.014'},[
 {id:'hispanic',cx:1184,half:40,vals:vB1Vals,dens:vB1Dens,box:vB1Box,out:vB1Out,fill:GREEN,boxW:9},
 {id:'not-hispanic',cx:1272,half:14.5,vals:vB2Vals,dens:vB2Dens,box:vB2Box,out:vB2Out,fill:ORANGE,boxW:9}]);
violinPanel({name:'panel-c-race-violin',y0:188.8,y04:33.4,axX:1381,axT:11,axB:210.3,axR:1577,ticks:scoreTicks,tickSize:11,tickLen:22,labOff:5,labCy:253.4,catSize:14.5,cats:['Non\u2212White','White'],yTitleX:1343,yTitleY:111,yTitleSize:15,yTitleLen:61,xTitleX:1479.5,xTitleY:299.7,xTitleSize:14.5,xTitleLen:32,xTitle:'Race',statX:1398,statY:29.5,statSize:11,statLen:96.6,stat:'Wilcoxon, p = 0.019'},[
 {id:'non-white',cx:1435,half:40,vals:vC1Vals,dens:vC1Dens,box:vC1Box,out:vC1Out,fill:GREEN,boxW:8.5},
 {id:'white',cx:1524.6,half:30,vals:vC2Vals,dens:vC2Dens,box:vC2Box,out:vC2Out,fill:ORANGE,boxW:8.5}]);
violinPanel({name:'panel-d-relapse-violin',y0:196.3,y04:33.9,axX:1659.4,axT:11,axB:213.4,axR:1856,ticks:scoreTicks,tickSize:11,tickLen:22,labOff:4.5,labCy:253.5,catSize:14.5,cats:['No relapse','Relapse'],yTitleX:1620,yTitleY:112,yTitleSize:15,yTitleLen:61,xTitleX:1757,xTitleY:299.7,xTitleSize:14.5,xTitleLen:51,xTitle:'Relapse',statX:1674.4,statY:29.5,statSize:11,statLen:100.6,stat:'Wilcoxon, p = 8e\u221205'},[
 {id:'no-relapse',cx:1712.6,half:40,vals:vD1Vals,dens:vD1Dens,box:vD1Box,out:vD1Out,fill:GREEN,boxW:8.5},
 {id:'relapse',cx:1802.3,half:24,vals:vD2Vals,dens:vD2Dens,box:vD2Box,out:vD2Out,fill:ORANGE,boxW:8.5}]);
violinPanel({name:'panel-e-status-violin',y0:586,y04:424.2,axX:1148.7,axT:393.8,axB:603.7,axR:1351,ticks:scoreTicks,tickSize:11,tickLen:22.5,labOff:5.5,labCy:624,catSize:13.5,cats:['Alive','Dead'],yTitleX:1107.6,yTitleY:498,yTitleSize:15,yTitleLen:55,xTitleX:1250,xTitleY:648,xTitleSize:14,xTitleLen:40,xTitle:'Status',statX:1163,statY:421,statSize:11,statLen:112,stat:'Wilcoxon, p = 3.6e\u221208'},[
 {id:'alive',cx:1203.6,half:41.6,vals:vE1Vals,dens:vE1Dens,box:vE1Box,out:vE1Out,fill:GREEN,boxW:9},
 {id:'dead',cx:1296,half:23,vals:vE2Vals,dens:vE2Dens,box:vE2Box,out:vE2Out,fill:ORANGE,boxW:9}]);
violinPanel({name:'panel-f-tumor-site-violin',y0:552.3,y04:405.5,axX:1578.4,axT:358.6,axB:580,axR:1853,ticks:scoreTicksF,tickSize:15,tickLen:32,labOff:6.5,labCy:619.5,catSize:16,cats:['Arm/hand','Leg/foot','Pelvis'],yTitleX:1524,yTitleY:469.5,yTitleSize:18,yTitleLen:67,xTitleX:1715.5,xTitleY:663.6,xTitleSize:17,xTitleLen:159,xTitle:'Primary tumor site',statX:1580,statY:365,statSize:14,statLen:164,stat:'Kruskal\u2212Wallis, p = 0.46',dot:3},[
 {id:'arm-hand',cx:1630,half:8,vals:vF1Vals,dens:vF1Dens,box:vF1Box,out:vF1Out,fill:GREEN,boxW:9.5},
 {id:'leg-foot',cx:1716,half:7,vals:vF2Vals,dens:vF2Dens,box:vF2Box,out:vF2Out,fill:ORANGE,boxW:9.5},
 {id:'pelvis',cx:1802,half:40,vals:vF3Vals,dens:vF3Dens,box:vF3Box,out:vF3Out,fill:SKY,boxW:9,rails:vF3Rails}]);

/* ===== Panels G, H ===== */
function exprPanel(cfg){
  const g=group(root,cfg.name);
  const y=linearScale(cfg.dom[0],cfg.dom[1],cfg.rng[0],cfg.rng[1]);
  const x=function(i){return cfg.cat0+i*cfg.step;};
  cfg.series.forEach(function(s){
    exprGenes.forEach(function(gene,i){
      const cx=x(i)+s.off;
      if(s.q1[i]!==null){
        const top=y(s.q3[i]),bot=y(s.q1[i]),h=bot-top;
        rect(g,cx-cfg.boxW/2,top,cfg.boxW,Math.max(h,1.4),s.color,'box-'+s.id+'-'+gene.toLowerCase(),h<2.5?{opacity:.3}:{});
        if(s.med[i]!==null){
          line(g,cx-cfg.boxW/2,y(s.med[i]),cx+cfg.boxW/2,y(s.med[i]),'#ffffff',2.6,'median-'+s.id+'-'+gene.toLowerCase());
        }
      }
      (s.out?s.out[i]:[]).forEach(function(o){
        add(g,'ellipse',{cx:cx,cy:y(o),rx:2.1,ry:2.8,fill:s.color},'outlier-'+s.id+'-'+gene.toLowerCase(),false);
      });
    });
  });
  line(g,cfg.axX,774,cfg.axX,996,'#222',1.6,'y-axis-line');
  line(g,cfg.axX,996,cfg.axR,996,'#222',1.6,'x-axis-line');
  cfg.ticks.forEach(function(t){
    line(g,cfg.axX-4,y(t),cfg.axX,y(t),'#333',1.2,'y-tick');
    label(g,cfg.axX-8,y(t),String(t),{size:23,fill:'#666',anchor:'end'},'y-tick-label');
  });
  exprGenes.forEach(function(gene,i){
    line(g,x(i),996,x(i),1001,'#333',1.2,'x-tick');
    label(g,x(i)+2,1055.7,gene,{size:20,fill:'#666',anchor:'middle',rot:-90},'x-tick-label');
    const s=cfg.signif[i];
    if(s==='ns'){label(g,x(i),779,s,{size:16,fill:'#333',anchor:'middle'},'significance-label');}
    else{label(g,x(i),777,s,{size:12,fill:'#444',anchor:'middle',weight:'bold'},'significance-label');}
  });
  label(g,cfg.titleX,885.7,'Expression',{size:20.5,fill:'#222',anchor:'middle',rot:-90},'y-axis-title');
  const lg=group(g,'group-legend');
  label(lg,cfg.legend.groupX,737.3,'Group',{size:20,fill:'#333',len:61},'legend-title');
  cfg.legend.items.forEach(function(it){
    rect(lg,it[0],731,22.5,12.5,it[2],'legend-swatch');
    line(lg,it[0],737.2,it[0]+22.5,737.2,'#ffffff',2.2,'legend-swatch-median');
    label(lg,it[1],737.3,it[3],{size:17,fill:'#333',len:it[4]},'legend-entry');
  });
}
exprPanel({name:'panel-g-risk-expression-boxplot',dom:[0,15],rng:[986.3,786.7],cat0:131.5,step:78.06,boxW:24.8,axX:84.8,axR:879.7,ticks:gTicks,signif:gSignif,titleX:30,
 series:[{id:'high',off:-14.5,color:'#e8583a',q1:gHighQ1,med:gHighMed,q3:gHighQ3,out:gHighOut},{id:'low',off:14.5,color:'#00b4f0',q1:gLowQ1,med:gLowMed,q3:gLowQ3,out:gLowOut}],
 legend:{groupX:366,items:[[445,483,'#e8583a','high',35],[534,571,'#00b4f0','low',29]]}});
exprPanel({name:'panel-h-cell-type-expression-boxplot',dom:[7,15],rng:[995,782.7],cat0:1135.6,step:78.04,boxW:15.9,axX:1089,axR:1884,ticks:hTicks,signif:hSignif,titleX:1034,
 series:[{id:'osteosarcoma',off:-19.5,color:'#e8583a',q1:hRedQ1,med:hRedMed,q3:hRedQ3,out:hRedOut},{id:'mesenchymal',off:0,color:'#00b4f0',q1:hBlueQ1,med:hBlueMed,q3:hBlueQ3,out:hBlueOut},{id:'osteoblast',off:19.5,color:'#c8c800',q1:hYellowQ1,med:hYellowMed,q3:hYellowQ3}],
 legend:{groupX:1124,items:[[1201.5,1239,'#e8583a','High-grade osteosarcoma',221],[1475.6,1513,'#00b4f0','Mesenchymal stem cell',194],[1724,1761,'#c8c800','Osteoblast',89]]}});

/* ===== Panel I ===== */
const RED='#e60f14',TEAL='#1497ad';
function stepPoints(T,S,x,y){
  const pts=[[x(T[0]),y(S[0])]];
  for(let i=1;i<T.length;i++){
    pts.push([x(T[i]),y(S[i-1])]);
    pts.push([x(T[i]),y(S[i])]);
  }
  return pts;
}
function survivalAt(T,S,t){
  let s=S[0];
  for(let i=0;i<T.length;i++){if(T[i]<=t){s=S[i];}}
  return s;
}
function drawStratum(g,st,x,y,id){
  const up=stepPoints(st.upT,st.up,x,y),lo=stepPoints(st.loT,st.lo,x,y).reverse();
  const d='M'+up.concat(lo).map(function(p){return p[0]+' '+p[1];}).join('L')+'Z';
  add(g,'path',{d:d,fill:st.color,'fill-opacity':.33},'confidence-band-'+id,false);
}
function drawCurve(g,st,x,y,id){
  const d='M'+stepPoints(st.t,st.s,x,y).map(function(p){return p[0]+' '+p[1];}).join('L');
  add(g,'path',{d:d,fill:'none',stroke:st.color,'stroke-width':7.6},'survival-curve-'+id,false);
  st.cens.forEach(function(c){
    const cy=y(survivalAt(st.t,st.s,c));
    line(g,x(c),cy-8,x(c),cy+8,st.color,2.2,'censor-mark-'+id);
  });
}
function kmPanel(p){
  const g=group(root,'panel-i-'+p.key+'-survival');
  const dy=p.dy;
  const y=linearScale(0,1,1441.6+dy,1210.2+dy);
  const x=linearScale(0,1,p.x0,p.x0+p.per);
  const axisY=1453+dy;
  /* legend */
  const lg=group(g,'survival-legend');
  const ly=1151.7+p.ldy;
  label(lg,p.geneCx,ly,p.gene,{size:20.3,fill:'#222',anchor:'middle'},'legend-gene-name');
  rect(lg,p.hBox,ly-14.7,29,29,RED,'legend-high-band',{'fill-opacity':.33});
  line(lg,p.hBox,ly,p.hBox+29,ly,RED,6.5,'legend-high-line');
  line(lg,p.hBox+14.5,ly-6,p.hBox+14.5,ly+6,RED,1.6,'legend-high-censor');
  label(lg,p.hText,ly,'High',{size:17,fill:'#333',len:33},'legend-high-label');
  rect(lg,p.lBox,ly-14.7,29,29,TEAL,'legend-low-band',{'fill-opacity':.33});
  line(lg,p.lBox,ly,p.lBox+29,ly,TEAL,6.5,'legend-low-line');
  line(lg,p.lBox+14.5,ly-6,p.lBox+14.5,ly+6,TEAL,1.6,'legend-low-censor');
  label(lg,p.lText,ly,'low',{size:17,fill:'#333',len:24},'legend-low-label');
  /* bands and curves */
  drawStratum(g,p.low,x,y,'low');
  drawStratum(g,p.high,x,y,'high');
  drawCurve(g,p.low,x,y,'low');
  drawCurve(g,p.high,x,y,'high');
  /* median lines */
  line(g,x(0),y(.5),x(p.median),y(.5),'#222',2,'median-survival-horizontal','8,6');
  line(g,x(p.median),y(.5),x(p.median),y(0),'#222',1.6,'median-survival-vertical','8,6');
  /* axes */
  line(g,p.axX,1198.5+dy,p.axX,axisY,'#222',1.8,'y-axis-line');
  line(g,p.axX,axisY,p.right,axisY,'#222',1.8,'x-axis-line');
  survTicks.forEach(function(t){
    line(g,p.axX-4,y(t),p.axX,y(t),'#222',1.2,'y-tick');
    label(g,p.axX-7,y(t),t.toFixed(2),{size:23,fill:'#3f7f3f',anchor:'end',len:p.tickLen},'y-tick-label');
  });
  p.xTicks.forEach(function(t){
    line(g,x(t),axisY,x(t),axisY+4,'#222',1.2,'x-tick');
    label(g,x(t),1471+dy,String(t),{size:21,fill:'#3f7f3f',anchor:'middle'},'x-tick-label');
  });
  label(g,p.yTitleX,1325.6+dy,'Survival probability',{size:25,fill:'#2b2b90',anchor:'middle',rot:-90,len:218},'y-axis-title');
  label(g,p.x0+139.5,1498.8+dy,'Time in Year',{size:22,fill:'#14147f',anchor:'middle',weight:'bold',style:'italic'},'x-axis-title');
  label(g,p.x0+6,1373+dy,'Log-rank',{size:26,fill:'#111'},'log-rank-label');
  label(g,p.x0+6,1396.5+dy,p.pval,{size:26,fill:'#111'},'p-value-label');
  /* risk table */
  const tg=group(g,'number-at-risk-table');
  const tx=linearScale(0,1,p.t0,p.t0+23.94);
  label(tg,p.tAxis+1,1540.8+dy,'Number at risk',{size:24.5,fill:'#222'},'risk-table-title');
  p.low.risk.forEach(function(v,i){
    label(tg,tx(i*2),1587.6+dy,String(v),{size:23,fill:'#2aa5b5',anchor:'middle'},'risk-count-low');
  });
  p.high.risk.forEach(function(v,i){
    label(tg,tx(i*2),1572.8+dy,String(v),{size:23,fill:'#e0333c',anchor:'middle'},'risk-count-high');
    line(tg,tx(i*2),1595+dy,tx(i*2),1598+dy,'#333',1,'risk-table-tick');
    label(tg,tx(i*2),1611.4+dy,String(i*2),{size:15,fill:'#777',anchor:'middle'},'risk-table-tick-label');
  });
  line(tg,p.tAxis,1564+dy,p.tAxis,1595+dy,'#333',1.5,'risk-table-y-axis');
  line(tg,p.tAxis,1595+dy,p.right,1595+dy,'#333',1.8,'risk-table-x-axis');
  rect(tg,p.markL,1569.4+dy,p.markR-p.markL,7,'#e60f14','risk-table-high-marker');
  rect(tg,p.markL,1583.4+dy,p.markR-p.markL,7,TEAL,'risk-table-low-marker');
  label(tg,p.sideX,1581.4+dy,p.gene,{size:19.6,fill:'#333',anchor:'middle',rot:-90},'risk-table-gene-label');
  label(tg,p.t0+143.6,1634.8+dy,'Time in Year',{size:20.3,fill:'#333',anchor:'middle'},'risk-table-x-title');
}
function stratum(color,t,s,upT,up,loT,lo,cens,risk){
  return {color:color,t:t,s:s,upT:upT,up:up,loT:loT,lo:lo,cens:cens,risk:risk};
}
const ticks10=[0,2,4,6,8,10];
const ticks12=[0,2,4,6,8,10,12];
const colA={axX:104.2,right:380.5,x0:117.3,per:23,yTitleX:31.5,tAxis:91,t0:105.7,markL:53.3,markR:78.5,sideX:29,tickLen:46};
const colB={axX:475,right:753.8,x0:488.6,per:23,yTitleX:403,tAxis:463,t0:477.5,markL:424,markR:450,sideX:400,tickLen:45};
const colC={axX:847.2,right:1128.5,x0:860.6,per:23.05,yTitleX:773.5,tAxis:834.5,t0:848.7,markL:797,markR:822.6,sideX:771,tickLen:41};
const colD={axX:1222.3,right:1487,x0:1235.7,per:23,yTitleX:1148.6,tAxis:1209.6,t0:1223.8,markL:1171.7,markR:1197.7,sideX:1145.6,tickLen:41};
const colE={axX:1582.5,right:1884,x0:1596,per:22.9,yTitleX:1509,tAxis:1569.9,t0:1584,markL:1532.7,markR:1558,sideX:1506.6,tickLen:41};
kmPanel(Object.assign({},colA,{key:'add1',gene:'ADD1',dy:0,ldy:0,geneCx:173,hBox:212,hText:253,lBox:298,lText:339,median:7.9,pval:'p = 0.0015',xTicks:ticks10,
 high:stratum(RED,add1HighT,add1HighS,add1HighUpT,add1HighUp,add1HighLoT,add1HighLo,add1HighCens,add1RiskHigh),
 low:stratum(TEAL,add1LowT,add1LowS,add1LowUpT,add1LowUp,add1LowLoT,add1LowLo,add1LowCens,add1RiskLow)}));
kmPanel(Object.assign({},colB,{key:'atp6v0d1',gene:'ATP6V0D1',dy:0,ldy:0,geneCx:544,hBox:607,hText:648.6,lBox:693,lText:734,median:2.55,pval:'p < 0.0001',xTicks:ticks10,
 high:stratum(RED,atpHighT,atpHighS,atpHighUpT,atpHighUp,atpHighLoT,atpHighLo,atpHighCens,atpRiskHigh),
 low:stratum(TEAL,atpLowT,atpLowS,atpLowUpT,atpLowUp,atpLowLoT,atpLowLo,atpLowCens,atpRiskLow)}));
kmPanel(Object.assign({},colC,{key:'ccl2',gene:'CCL2',dy:0,ldy:0,geneCx:916,hBox:954,hText:995,lBox:1040.7,lText:1081,median:2.5,pval:'p < 0.0001',xTicks:ticks10,
 high:stratum(RED,ccl2HighT,ccl2HighS,ccl2HighUpT,ccl2HighUp,ccl2HighLoT,ccl2HighLo,ccl2HighCens,ccl2RiskHigh),
 low:stratum(TEAL,ccl2LowT,ccl2LowS,ccl2LowUpT,ccl2LowUp,ccl2LowLoT,ccl2LowLo,ccl2LowCens,ccl2RiskLow)}));
kmPanel(Object.assign({},colD,{key:'ccnd1',gene:'CCND1',dy:0,ldy:0,geneCx:1291.5,hBox:1338,hText:1380,lBox:1424,lText:1465,median:7.9,pval:'p = 0.014',xTicks:ticks10,
 high:stratum(RED,ccndHighT,ccndHighS,ccndHighUpT,ccndHighUp,ccndHighLoT,ccndHighLo,ccndHighCens,ccndRiskHigh),
 low:stratum(TEAL,ccndLowT,ccndLowS,ccndLowUpT,ccndLowUp,ccndLowLoT,ccndLowLo,ccndLowCens,ccndRiskLow)}));
kmPanel(Object.assign({},colE,{key:'fbxo6',gene:'FBXO6',dy:0,ldy:0,geneCx:1652,hBox:1696.4,hText:1737,lBox:1782.7,lText:1823,median:1.8,pval:'p < 0.0001',xTicks:ticks12,
 high:stratum(RED,fbxoHighT,fbxoHighS,fbxoHighUpT,fbxoHighUp,fbxoHighLoT,fbxoHighLo,fbxoHighCens,fbxoRiskHigh),
 low:stratum(TEAL,fbxoLowT,fbxoLowS,fbxoLowUpT,fbxoLowUp,fbxoLowLoT,fbxoLowLo,fbxoLowCens,fbxoRiskLow)}));
kmPanel(Object.assign({},colA,{key:'magea3',gene:'MAGEA3',dy:542,ldy:542,geneCx:175,hBox:226,hText:267.6,lBox:312.6,lText:354,median:2.75,pval:'p < 0.0001',xTicks:ticks10,
 high:stratum(RED,mageHighT,mageHighS,mageHighUpT,mageHighUp,mageHighLoT,mageHighLo,mageHighCens,mageRiskHigh),
 low:stratum(TEAL,mageLowT,mageLowS,mageLowUpT,mageLowUp,mageLowLoT,mageLowLo,mageLowCens,mageRiskLow)}));
kmPanel(Object.assign({},colB,{key:'map3k5',gene:'MAP3K5',dy:542,ldy:542,geneCx:546,hBox:596,hText:637,lBox:682.5,lText:723.7,median:2.9,pval:'p < 0.0001',xTicks:ticks10,
 high:stratum(RED,mapHighT,mapHighS,mapHighUpT,mapHighUp,mapHighLoT,mapHighLo,mapHighCens,mapRiskHigh),
 low:stratum(TEAL,mapLowT,mapLowS,mapLowUpT,mapLowUp,mapLowLoT,mapLowLo,mapLowCens,mapRiskLow)}));
kmPanel(Object.assign({},colC,{key:'pml',gene:'PML',dy:542,ldy:542,geneCx:917,hBox:949,hText:991,lBox:1035.5,lText:1076.4,median:2.9,pval:'p < 0.0001',xTicks:ticks10,
 high:stratum(RED,pmlHighT,pmlHighS,pmlHighUpT,pmlHighUp,pmlHighLoT,pmlHighLo,pmlHighCens,pmlRiskHigh),
 low:stratum(TEAL,pmlLowT,pmlLowS,pmlLowUpT,pmlLowUp,pmlLowLoT,pmlLowLo,pmlLowCens,pmlRiskLow)}));
kmPanel(Object.assign({},colD,{key:'stc',gene:'STC',dy:538.5,ldy:539,geneCx:1291,hBox:1324,hText:1365,lBox:1410.6,lText:1451.5,median:4.3,pval:'p = 0.00061',xTicks:ticks10,
 high:stratum(RED,stcHighT,stcHighS,stcHighUpT,stcHighUp,stcHighLoT,stcHighLo,stcHighCens,stcRiskHigh),
 low:stratum(TEAL,stcLowT,stcLowS,stcLowUpT,stcLowUp,stcLowLoT,stcLowLo,stcLowCens,stcRiskLow)}));
kmPanel(Object.assign({},colE,{key:'tor1a',gene:'TOR1A',dy:538.5,ldy:539,geneCx:1652,hBox:1697,hText:1738,lBox:1783.5,lText:1824,median:2.3,pval:'p < 0.0001',xTicks:ticks12,
 high:stratum(RED,torHighT,torHighS,torHighUpT,torHighUp,torHighLoT,torHighLo,torHighCens,torRiskHigh),
 low:stratum(TEAL,torLowT,torLowS,torLowUpT,torLowUp,torLowLoT,torLowLo,torLowCens,torRiskLow)}));
</script>
</body>
</html>
